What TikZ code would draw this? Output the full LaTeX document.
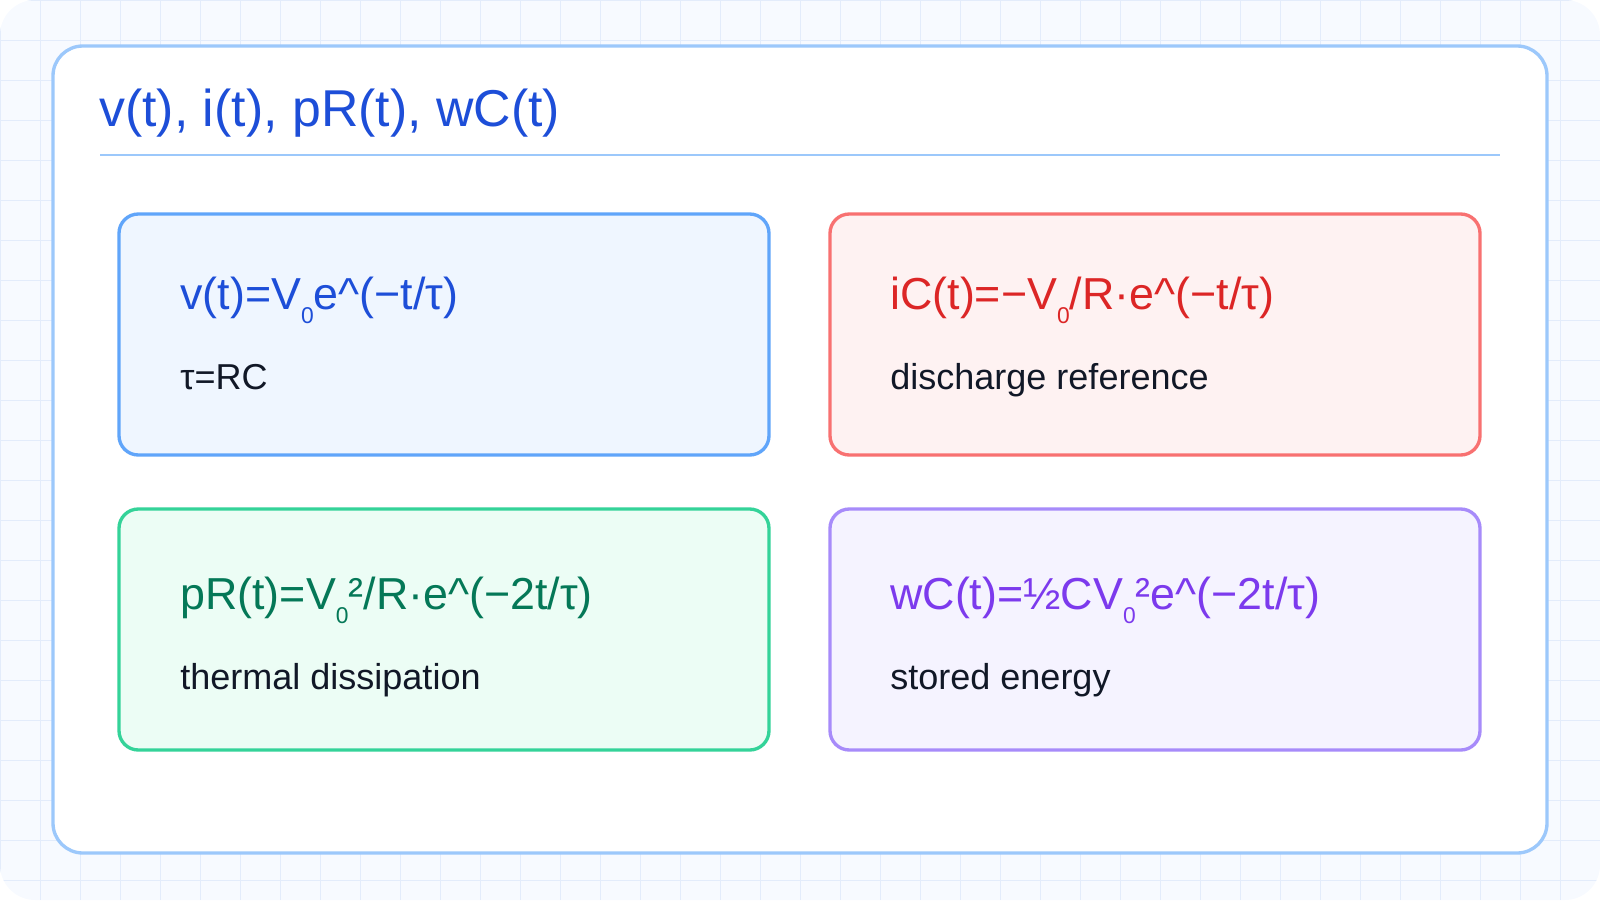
\documentclass[tikz,border=0pt]{standalone}
\usepackage{fontspec}
\setmainfont{Liberation Sans}
\definecolor{bgc}{HTML}{F7FAFF}
\definecolor{gridc}{HTML}{E3ECFB}
\definecolor{cardc}{HTML}{9CC8FB}
\definecolor{inkc}{HTML}{111827}
\definecolor{blueT}{HTML}{1D4ED8}\definecolor{blueF}{HTML}{EFF6FF}\definecolor{blueD}{HTML}{60A5FA}
\definecolor{redT}{HTML}{DC2626}\definecolor{redF}{HTML}{FEF2F2}\definecolor{redD}{HTML}{F87171}
\definecolor{greenT}{HTML}{047857}\definecolor{greenF}{HTML}{ECFDF5}\definecolor{greenD}{HTML}{34D399}
\definecolor{purpT}{HTML}{7C3AED}\definecolor{purpF}{HTML}{F5F3FF}\definecolor{purpD}{HTML}{A78BFA}
\newcommand{\lowsub}[1]{\raisebox{-0.6ex}{\fontsize{13pt}{13pt}\selectfont #1}}
\tikzset{
  panel/.style 2 args={draw=#1, fill=#2, line width=1.9pt, rounded corners=11pt},
  formula/.style={anchor=base west, inner sep=0pt, font=\fontsize{25.5pt}{28pt}\selectfont, text=#1},
  caption/.style={anchor=base west, inner sep=0pt, font=\fontsize{20.5pt}{23pt}\selectfont, text=inkc}
}
\begin{document}
\begin{tikzpicture}[x=0.02cm,y=-0.02cm]
	\useasboundingbox (0,0) rectangle (1600,900);
	\fill[bgc, rounded corners=20pt] (0,0) rectangle (1600,900);
	\begin{scope}
		\clip[rounded corners=20pt] (0,0) rectangle (1600,900);
		\foreach \gx in {0,40,...,1600} \draw[gridc, line width=0.5pt] (\gx,0) -- (\gx,900);
		\foreach \gy in {0,40,...,900} \draw[gridc, line width=0.5pt] (0,\gy) -- (1600,\gy);
	\end{scope}

	% card
	\draw[cardc, fill=white, line width=1.9pt, rounded corners=17pt] (53,46) rectangle (1547,853);
	\node[anchor=base west, inner sep=0pt, text=blueT, font=\fontsize{29.5pt}{32pt}\selectfont] (title) at (99,126) {v(t), i(t), pR(t), wC(t)};
	\draw[cardc, line width=1.2pt] (100,155) -- (1500,155);

	% panels
	\draw[panel={blueD}{blueF}] (119,214) rectangle (769,455);
	\draw[panel={redD}{redF}] (830,214) rectangle (1480,455);
	\draw[panel={greenD}{greenF}] (119,509) rectangle (769,750);
	\draw[panel={purpD}{purpF}] (830,509) rectangle (1480,750);

	\node[formula=blueT] (vt) at (180,309) {v(t)=V\lowsub{0}e\^{}(−t/τ)};
	\node[caption] (tau) at (180,389) {τ=RC};
	\node[formula=redT] (ic) at (890,309) {iC(t)=−V\lowsub{0}/R·e\^{}(−t/τ)};
	\node[caption] (dis) at (890,389) {discharge reference};
	\node[formula=greenT] (pr) at (180,609) {pR(t)=V\lowsub{0}²/R·e\^{}(−2t/τ)};
	\node[caption] (therm) at (180,689) {thermal dissipation};
	\node[formula=purpT] (wc) at (890,609) {wC(t)=½CV\lowsub{0}²e\^{}(−2t/τ)};
	\node[caption] (store) at (890,689) {stored energy};
\end{tikzpicture}
\end{document}
